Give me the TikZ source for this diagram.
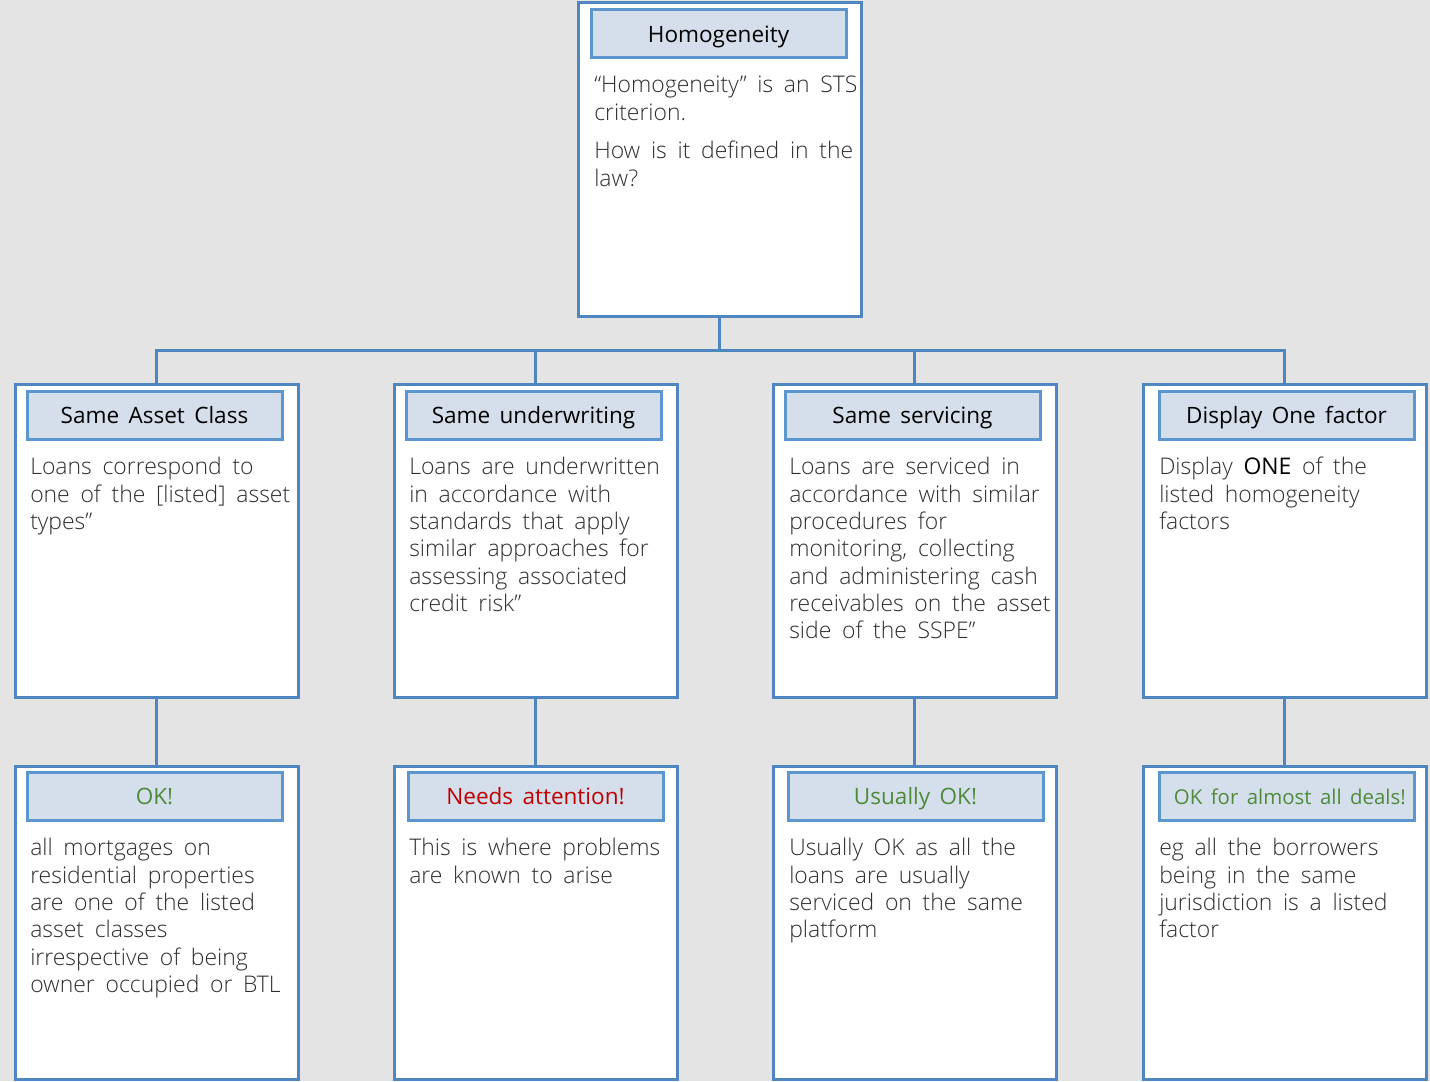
\documentclass[tikz,border=0pt]{standalone}
\usepackage{fontspec}
\setmainfont{Open Sans}[WordSpace=1.6]
\newfontfamily\lightfont{Open Sans Light}[WordSpace=1.8]
\definecolor{bg}{HTML}{E4E4E4}
\definecolor{edge}{HTML}{4F86C0}
\definecolor{hdrfill}{HTML}{D5DFEC}
\definecolor{hdredge}{HTML}{5B96CE}
\definecolor{txt}{HTML}{2E2E2E}
\definecolor{okgreen}{HTML}{4E8A3A}
\definecolor{alertred}{HTML}{C00000}
\tikzset{
  card/.style={draw=edge, line width=2.25pt, fill=white, minimum width=283*0.75pt, minimum height=313*0.75pt, inner sep=0pt, outer sep=0pt, anchor=north west},
  hdr/.style={draw=hdredge, line width=2.25pt, fill=hdrfill, minimum width=255*0.75pt, minimum height=48*0.75pt, inner sep=0pt, outer sep=0pt, anchor=north west, text=black, text height=16.75pt, text depth=4pt, font=\fontsize{16.9}{20}\selectfont},
  body/.style={anchor=north west, align=left, inner sep=0pt, text=txt, font=\lightfont\fontsize{17.2}{20.5}\selectfont},
  conn/.style={draw=edge, line width=2.25pt}
}
\begin{document}
\begin{tikzpicture}[x=0.75pt,y=-0.75pt]
\fill[bg] (0,0) rectangle (1430,1081);
\useasboundingbox (0,0) rectangle (1430,1081);
% cards
\node[card] (top) at (578,3) {};
\node[card] (c1) at (15,384) {};
\node[card] (c2) at (394,384) {};
\node[card] (c3) at (773,384) {};
\node[card] (c4) at (1143,384) {};
\node[card] (d1) at (15,766) {};
\node[card] (d2) at (394,766) {};
\node[card] (d3) at (773,766) {};
\node[card] (d4) at (1143,766) {};
% connectors
\coordinate (bus) at (719.5,350);
\draw[conn] (top.south) -- (bus);
\draw[conn] (c1.north) |- (bus) -| (c4.north);
\draw[conn] (c2.north) -- (c2.north |- bus);
\draw[conn] (c3.north) -- (c3.north |- bus);
\draw[conn] (c1.south) -- (d1.north);
\draw[conn] (c2.south) -- (d2.north);
\draw[conn] (c3.south) -- (d3.north);
\draw[conn] (c4.south) -- (d4.north);
% headers
\node[hdr] (h0) at (591,10) {Homogeneity};
\node[hdr] (h1) at (27,391) {Same Asset Class};
\node[hdr] (h2) at (406,391) {Same underwriting};
\node[hdr] (h3) at (785,391) {Same servicing};
\node[hdr] (h4) at (1159,391) {Display One factor};
\node[hdr, text=okgreen] (g1) at (27,772) {OK!};
\node[hdr, text=alertred] (g2) at (408,772) {Needs attention!};
\node[hdr, text=okgreen] (g3) at (788,772) {Usually OK!};
\node[hdr, text=okgreen, font=\fontsize{15.3}{20}\selectfont] (g4) at (1159,772) {\hspace{5pt}OK for almost all deals!};
% body texts
\node[body] (t0) at (594,76) {“Homogeneity” is an STS\\criterion.\\[8.5pt]How is it defined in the\\law?};
\node[body] (t1) at (30,457) {Loans correspond to\\one of the [listed] asset\\types”};
\node[body] (t2) at (409,457) {Loans are underwritten\\in accordance with\\standards that apply\\similar approaches for\\assessing associated\\credit risk”};
\node[body] (t3) at (789,457) {Loans are serviced in\\accordance with similar\\procedures for\\monitoring, collecting\\and administering cash\\receivables on the asset\\side of the SSPE”};
\node[body] (t4) at (1159,457) {Display {\normalfont\color{black}ONE} of the\\listed homogeneity\\factors};
\node[body] (u1) at (30,838) {all mortgages on\\residential properties\\are one of the listed\\asset classes\\irrespective of being\\owner occupied or BTL};
\node[body] (u2) at (409,838) {This is where problems\\are known to arise};
\node[body] (u3) at (789,838) {Usually OK as all the\\loans are usually\\serviced on the same\\platform};
\node[body] (u4) at (1159,838) {eg all the borrowers\\being in the same\\jurisdiction is a listed\\factor};
\end{tikzpicture}
\end{document}
